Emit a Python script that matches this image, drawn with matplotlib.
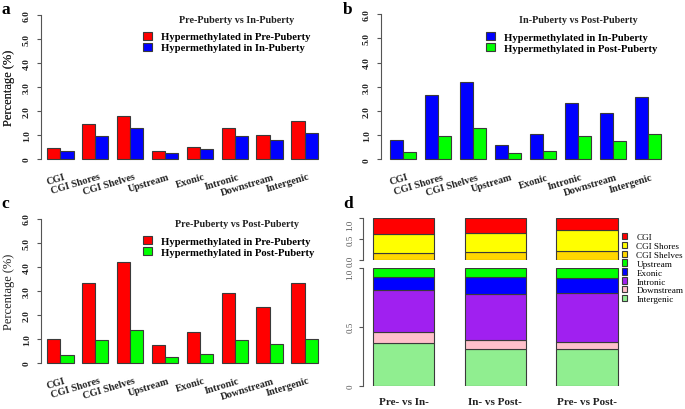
import matplotlib
matplotlib.use("Agg")
import matplotlib.pyplot as plt
from matplotlib.patches import Patch
from matplotlib.font_manager import FontProperties

W, H = 685, 410
SERIF = "Liberation Serif"
plt.rcParams["font.family"] = [SERIF, "DejaVu Serif"]

categories = ["CGI", "CGI Shores", "CGI Shelves", "Upstream", "Exonic",
              "Intronic", "Downstream", "Intergenic"]

# Panel a: Pre-Puberty vs In-Puberty
a_pre = [0.44, 1.44, 1.79, 0.32, 0.50, 1.29, 1.00, 1.60]
a_in = [0.35, 0.97, 1.28, 0.24, 0.42, 0.94, 0.81, 1.07]
# Panel b: In-Puberty vs Post-Puberty
b_in = [0.80, 2.65, 3.18, 0.58, 1.03, 2.32, 1.91, 2.56]
b_post = [0.30, 0.98, 1.31, 0.28, 0.34, 0.95, 0.74, 1.03]
# Panel c: Pre-Puberty vs Post-Puberty
c_pre = [1.00, 3.32, 4.19, 0.75, 1.30, 2.89, 2.34, 3.31]
c_post = [0.33, 0.94, 1.36, 0.24, 0.36, 0.94, 0.77, 0.98]

yticks = [0, 1, 2, 3, 4, 5, 6]
ytick_labels = ["0", "1.0", "2.0", "3.0", "4.0", "5.0", "6.0"]

# Panel d: proportions
comparisons = ["Pre- vs In-", "In- vs Post-", "Pre- vs Post-"]
d_shelves = [0.17, 0.18, 0.21]
d_shores = [0.45, 0.47, 0.51]
d_cgi = [0.38, 0.35, 0.28]
d_intergenic = [0.36, 0.31, 0.31]
d_downstream = [0.094, 0.075, 0.061]
d_intronic = [0.359, 0.396, 0.413]
d_exonic = [0.112, 0.139, 0.125]
d_upstream = [0.075, 0.080, 0.091]
d_top_ticks = [0, 0.5, 1.0]
d_top_labels = ["0.0", "0.5", "1.0"]
d_bot_ticks = [0, 0.5, 1.0]
d_bot_labels = ["0", "0.5", "1.0"]

RED, BLUE, GREEN = "#FF0000", "#0000FF", "#00FF00"
EDGE = "#3a3a3a"
AXC = "#555555"

fig = plt.figure(figsize=(W / 100, H / 100), dpi=100)


def px_axes(left, top, right, bottom):
    return fig.add_axes([left / W, 1 - bottom / H, (right - left) / W, (bottom - top) / H])


def fx(x):
    return x / W


def fy(y):
    return 1 - y / H


def bar_panel(axis_x, right_x, zero_y, six_y, center0, pitch, bar_px,
              s1, s2, c1, c2, lab1, lab2, title, title_xy, leg_xy, letter, letter_xy):
    ppu = (zero_y - six_y) / 6.0
    top = six_y - 0.24 * ppu
    bottom = zero_y + 0.24 * ppu
    ax = px_axes(axis_x, top, right_x, bottom)
    ax.set_ylim(-0.24, 6.24)
    ax.set_xlim((axis_x - center0) / pitch, (right_x - center0) / pitch)
    w = bar_px / pitch
    xs = list(range(len(categories)))
    ax.bar([x - w / 2 for x in xs], s1, width=w, color=c1, edgecolor=EDGE, linewidth=0.8)
    ax.bar([x + w / 2 for x in xs], s2, width=w, color=c2, edgecolor=EDGE, linewidth=0.8)
    for s in ["top", "right", "bottom"]:
        ax.spines[s].set_visible(False)
    ax.spines["left"].set_bounds(0, 6)
    ax.spines["left"].set_color(AXC)
    ax.spines["left"].set_linewidth(0.8)
    ax.set_xticks([])
    ax.set_yticks(yticks)
    ax.set_yticklabels(ytick_labels, rotation=90, va="center",
                       fontweight="bold", fontsize=6.8, color="#222222")
    ax.tick_params(axis="y", length=3, width=0.8, color=AXC, pad=4)
    ax.set_ylabel("Percentage (%)", fontsize=9, color="#222222")
    ax.yaxis.set_label_coords((15 - axis_x) / (right_x - axis_x), 0.5)
    for x, lab in zip(xs, categories):
        ax.text(x + 0.13, -0.71, lab, rotation=17, ha="right", va="center",
                rotation_mode="anchor", fontsize=7.3, fontweight="bold",
                color="#222222", clip_on=False)
    handles = [Patch(facecolor=c1, edgecolor=EDGE, linewidth=0.8, label=lab1),
               Patch(facecolor=c2, edgecolor=EDGE, linewidth=0.8, label=lab2)]
    ax.legend(handles=handles, loc="upper left", bbox_to_anchor=(fx(leg_xy[0]), fy(leg_xy[1])),
              bbox_transform=fig.transFigure, frameon=False, borderpad=0, borderaxespad=0,
              handlelength=0.84, handleheight=0.84, handletextpad=0.85, labelspacing=0.1,
              prop=FontProperties(family=SERIF, weight="bold", size=7.7))
    fig.text(fx(title_xy[0]), fy(title_xy[1]), title, ha="center", va="center",
             fontsize=7.3, fontweight="bold", color="#222222")
    fig.text(fx(letter_xy[0]), fy(letter_xy[1]), letter, ha="left", va="top",
             fontsize=12.5, fontweight="bold")
    return ax


bar_panel(40.7, 326, 160.0, 15.7, 60.3, 34.9, 13.3, a_pre, a_in, RED, BLUE,
          "Hypermethylated in Pre-Puberty", "Hypermethylated in In-Puberty",
          "Pre-Puberty vs In-Puberty", (237, 20.7), (143.3, 32.5), "a", (1, 1.5))
bar_panel(380.7, 668, 160.3, 15.1, 403.3, 34.9, 13.0, b_in, b_post, BLUE, GREEN,
          "Hypermethylated in In-Puberty", "Hypermethylated in Post-Puberty",
          "In-Puberty vs Post-Puberty", (578, 20.7), (486, 32.8), "b", (343, 1.5))
bar_panel(40.7, 326, 364.0, 219.5, 60.3, 34.9, 13.3, c_pre, c_post, RED, GREEN,
          "Hypermethylated in Pre-Puberty", "Hypermethylated in Post-Puberty",
          "Pre-Puberty vs Post-Puberty", (237, 224.3), (143.3, 236.8), "c", (1, 196))

# Panel d
d_colors = {"CGI": "#FF0000", "CGI Shores": "#FFFF00", "CGI Shelves": "#FFD700",
            "Upstream": "#00FF00", "Exonic": "#0000FF", "Intronic": "#A020F0",
            "Downstream": "#FFC0CB", "Intergenic": "#90EE90"}
d_axis_x, d_right = 362.7, 620
d_center0, d_ppu = 403.7, 61.1
dx = [0, 1.5, 3.0]
xlim = ((d_axis_x - d_center0) / d_ppu, (d_right - d_center0) / d_ppu)

ax_top = px_axes(d_axis_x, 219.3, d_right, 261.0)
ax_bot = px_axes(d_axis_x, 268.7, d_right, 386.7)

top_stack = [("CGI Shelves", d_shelves), ("CGI Shores", d_shores), ("CGI", d_cgi)]
bot_stack = [("Intergenic", d_intergenic), ("Downstream", d_downstream),
             ("Intronic", d_intronic), ("Exonic", d_exonic), ("Upstream", d_upstream)]

for ax, stack in [(ax_top, top_stack), (ax_bot, bot_stack)]:
    base = [0.0, 0.0, 0.0]
    for name, vals in stack:
        ax.bar(dx, vals, width=1.0, bottom=base, color=d_colors[name],
               edgecolor=EDGE, linewidth=0.8)
        base = [b + v for b, v in zip(base, vals)]
    ax.set_xlim(*xlim)
    ax.set_ylim(0, 1.0)
    for s in ["top", "right", "bottom"]:
        ax.spines[s].set_visible(False)
    ax.spines["left"].set_color(AXC)
    ax.spines["left"].set_linewidth(0.8)
    ax.set_xticks([])
    ax.tick_params(axis="y", length=3, width=0.8, color=AXC, pad=3)

ax_top.set_yticks(d_top_ticks)
ax_top.set_yticklabels(d_top_labels, rotation=90, va="center", fontsize=6.5, color="#555555")
ax_bot.set_yticks(d_bot_ticks)
ax_bot.set_yticklabels(d_bot_labels, rotation=90, va="center", fontsize=6.5, color="#555555")
for ax in (ax_top, ax_bot):
    labs = ax.get_yticklabels()
    labs[-1].set_va("top")
    for lab in labs:
        lab.set_clip_on(False)

for x, lab in zip(dx, comparisons):
    ax_bot.text(x, -0.138, lab, ha="center", va="center", fontsize=8,
                fontweight="bold", color="#222222", clip_on=False)

legend_order = ["CGI", "CGI Shores", "CGI Shelves", "Upstream", "Exonic",
                "Intronic", "Downstream", "Intergenic"]
d_handles = [Patch(facecolor=d_colors[n], edgecolor=EDGE, linewidth=0.8, label=n)
             for n in legend_order]
fig.legend(handles=d_handles, loc="upper left", bbox_to_anchor=(fx(621.5), fy(233.8)),
           frameon=False, borderpad=0, borderaxespad=0, handlelength=0.62,
           handleheight=0.7, handletextpad=1.0, labelspacing=0.05,
           prop=FontProperties(family=SERIF, size=6.6))
fig.text(fx(343), fy(196), "d", ha="left", va="top", fontsize=12.5, fontweight="bold")

fig.savefig("out.png", dpi=100)
